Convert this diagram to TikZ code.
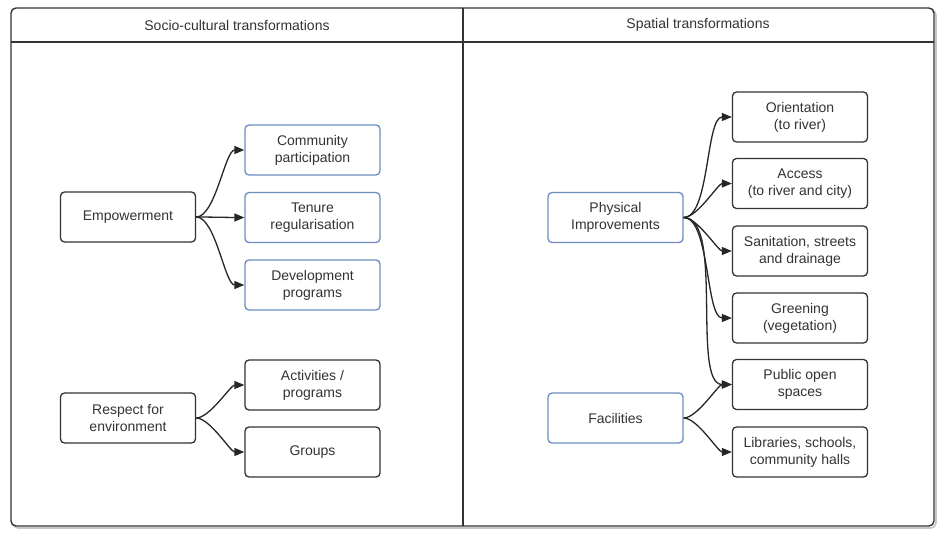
\documentclass[tikz,border=0pt]{standalone}
\usepackage{fontspec}
\setmainfont{Liberation Sans}
\usetikzlibrary{arrows.meta}
\definecolor{lineg}{HTML}{333333}
\definecolor{boxblue}{HTML}{6C8EBF}
\begin{document}
\begin{tikzpicture}[x=1pt,y=-1pt,
  box/.style={draw=lineg, line width=1.3pt, rounded corners=4pt, minimum width=135pt, minimum height=50pt, align=center, font=\fontsize{14}{17}\selectfont, text=lineg, inner sep=0pt, fill=white},
  bluebox/.style={box, draw=boxblue},
  link/.style={-{Triangle[length=10pt,width=8pt]}, line width=1.3pt, draw=black!85, out=0, in=180, looseness=0.6},
  header/.style={font=\fontsize{14}{17}\selectfont, text=lineg},
  frame/.style={draw=lineg, line width=1.4pt}
]
\useasboundingbox (0,0) rectangle (938,535);
% frame with shadow
\draw[gray!45, line width=1.6pt, rounded corners=5pt] (13,10) rectangle (936,528);
\draw[frame, rounded corners=5pt, fill=white] (11,8) rectangle (934,526);
\draw[frame] (11,42) -- (934,42);
\draw[frame] (463,8) -- (463,526);
\node[header] (hl) at (237,25) {Socio-cultural transformations};
\node[header] (hr) at (698,25) {Spatial transformations};

% left
\node[box] (emp) at (128,217) {Empowerment};
\node[bluebox] (comm) at (312.5,150) {Community\\participation};
\node[bluebox] (ten) at (312.5,217.5) {Tenure\\regularisation};
\node[bluebox] (dev) at (312.5,285) {Development\\programs};
\node[box] (resp) at (128,418) {Respect for\\environment};
\node[box] (act) at (312.5,385) {Activities /\\programs};
\node[box] (grp) at (312.5,452) {Groups};

% right
\node[bluebox] (phys) at (615.5,217.5) {Physical\\Improvements};
\node[bluebox] (fac) at (615.5,418) {Facilities};
\node[box] (ori) at (800,117) {Orientation\\(to river)};
\node[box] (acc) at (800,183.5) {Access\\(to river and city)};
\node[box] (san) at (800,251) {Sanitation, streets\\and drainage};
\node[box] (gre) at (800,318) {Greening\\(vegetation)};
\node[box] (pub) at (800,384.5) {Public open\\spaces};
\node[box] (lib) at (800,452) {Libraries, schools,\\community halls};

% connectors
\draw[link] (emp.east) to (comm.west);
\draw[link] (emp.east) to (ten.west);
\draw[link] (emp.east) to (dev.west);
\draw[link] (resp.east) to (act.west);
\draw[link] (resp.east) to (grp.west);
\draw[link] (phys.east) to (ori.west);
\draw[link] (phys.east) to (acc.west);
\draw[link] (phys.east) to (san.west);
\draw[link] (phys.east) to (gre.west);
\draw[link] (phys.east) to (pub.west);
\draw[link] (fac.east) to (pub.west);
\draw[link] (fac.east) to (lib.west);
\end{tikzpicture}
\end{document}
